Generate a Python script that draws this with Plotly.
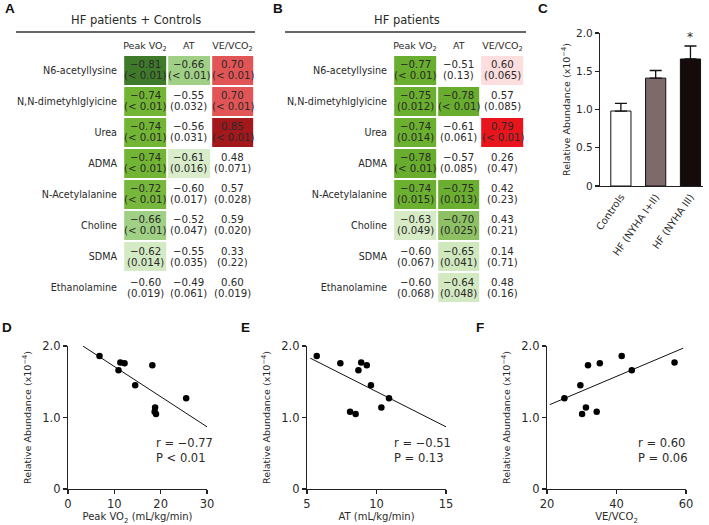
import plotly.graph_objects as go

# ---------------- data ----------------
metabolites = ["N6-acetyllysine", "N,N-dimetyhlglyicine", "Urea", "ADMA",
               "N-Acetylalanine", "Choline", "SDMA", "Ethanolamine"]
parameters = ["Peak VO<sub>2</sub>", "AT", "VE/VCO<sub>2</sub>"]

r_all = [[-0.81, -0.66, 0.70],
         [-0.74, -0.55, 0.70],
         [-0.74, -0.56, 0.85],
         [-0.74, -0.61, 0.48],
         [-0.72, -0.60, 0.57],
         [-0.66, -0.52, 0.59],
         [-0.62, -0.55, 0.33],
         [-0.60, -0.49, 0.60]]
p_all = [["&lt; 0.01", "&lt; 0.01", "&lt; 0.01"],
         ["&lt; 0.01", "0.032", "&lt; 0.01"],
         ["&lt; 0.01", "0.031", "&lt; 0.01"],
         ["&lt; 0.01", "0.016", "0.071"],
         ["&lt; 0.01", "0.017", "0.028"],
         ["&lt; 0.01", "0.047", "0.020"],
         ["0.014", "0.035", "0.22"],
         ["0.019", "0.061", "0.019"]]

r_hf = [[-0.77, -0.51, 0.60],
        [-0.75, -0.78, 0.57],
        [-0.74, -0.61, 0.79],
        [-0.78, -0.57, 0.26],
        [-0.74, -0.75, 0.42],
        [-0.63, -0.70, 0.43],
        [-0.60, -0.65, 0.14],
        [-0.60, -0.64, 0.48]]
p_hf = [["&lt; 0.01", "0.13", "0.065"],
        ["0.012", "&lt; 0.01", "0.085"],
        ["0.014", "0.061", "&lt; 0.01"],
        ["&lt; 0.01", "0.085", "0.47"],
        ["0.015", "0.013", "0.23"],
        ["0.049", "0.025", "0.21"],
        ["0.067", "0.041", "0.71"],
        ["0.068", "0.048", "0.16"]]

groups = ["Controls", "HF (NYHA I+II)", "HF (NYHA III)"]
group_mean = [0.98, 1.41, 1.66]
group_sem = [0.10, 0.10, 0.17]

abundance = [1.86, 1.77, 1.76, 1.73, 1.66, 1.45, 1.27, 1.14, 1.08, 1.05]
peak_vo2 = [6.8, 11.3, 12.2, 18.2, 10.9, 14.5, 25.5, 18.8, 18.7, 19.0]
at_vals = [5.7, 8.9, 7.4, 9.3, 8.7, 9.6, 10.9, 10.35, 8.1, 8.5]
ve_vco2 = [41.5, 56.7, 35.2, 31.8, 44.4, 29.6, 25.0, 31.2, 34.3, 30.1]

fit_d_x, fit_d_y = [3.2, 30.0], [2.0, 0.87]
fit_e_x, fit_e_y = [5.24, 15.0], [1.83, 0.87]
fit_f_x, fit_f_y = [20.8, 59.2], [1.18, 1.97]

stats_d = "r = \u22120.77<br>P &lt; 0.01"
stats_e = "r = \u22120.51<br>P = 0.13"
stats_f = "r = 0.60<br>P = 0.06"

# ---------------- styling ----------------
W, H = 709, 525
FONT = "DejaVu Sans"
TXT = "#2a2a2a"
AX = "#222222"


def X(p):
    return p / W


def Y(p):
    return 1 - p / H


def scale(stops):
    return [[(z + 1) / 2, c] for z, c in stops]


cs_all = scale([(-1.0, "#2c6a1a"), (-0.81, "#3e7a2a"), (-0.78, "#5ea42e"),
                (-0.74, "#72b534"), (-0.72, "#76b73c"), (-0.69, "#8cc466"),
                (-0.66, "#a0d085"), (-0.63, "#cfe7bd"), (-0.61, "#d9edcb"),
                (-0.605, "#ffffff"), (0.60, "#ffffff"), (0.65, "#f2a0a0"),
                (0.70, "#e25556"), (0.85, "#a3181b"), (1.0, "#800f12")])
cs_hf = scale([(-1.0, "#5a9e25"), (-0.74, "#6bb02f"), (-0.71, "#86bd5b"),
               (-0.70, "#8dc163"), (-0.66, "#cde6ba"), (-0.63, "#d6ebc6"),
               (-0.625, "#d8ecc9"), (-0.62, "#ffffff"), (0.59, "#ffffff"),
               (0.595, "#fde4e4"), (0.60, "#fcdede"), (0.79, "#e8161c"),
               (1.0, "#c01015")])


def fmt(v):
    return f"{v:.2f}".replace("-", "\u2212")


fig = go.Figure()
annotations = []

for r_tab, p_tab, cs, xa, ya in [(r_all, p_all, cs_all, "x", "y"),
                                  (r_hf, p_hf, cs_hf, "x2", "y2")]:
    fig.add_trace(go.Heatmap(z=r_tab, x=parameters, y=metabolites, colorscale=cs,
                             zmin=-1, zmax=1, showscale=False, xgap=2, ygap=2,
                             xaxis=xa, yaxis=ya, hoverinfo="skip"))
    for i, m in enumerate(metabolites):
        for j, c in enumerate(parameters):
            annotations.append(dict(x=c, y=m, xref=xa, yref=ya, text=fmt(r_tab[i][j]),
                                    showarrow=False, yshift=5.5, xanchor="center",
                                    yanchor="middle",
                                    font=dict(family=FONT, size=10.2, color=TXT)))
            annotations.append(dict(x=c, y=m, xref=xa, yref=ya, text="(" + p_tab[i][j] + ")",
                                    showarrow=False, yshift=-5.5, xanchor="center",
                                    yanchor="middle",
                                    font=dict(family=FONT, size=10.2, color=TXT)))

# bar chart C
fig.add_trace(go.Bar(x=groups, y=group_mean, width=0.58,
                     marker=dict(color=["#ffffff", "#7f6a6a", "#150b0b"],
                                 line=dict(color="#111111", width=1)),
                     error_y=dict(type="data", array=group_sem,
                                  arrayminus=[0] * len(group_sem), symmetric=False,
                                  color="#111111", thickness=1.3, width=6),
                     xaxis="x3", yaxis="y3", hoverinfo="skip"))
annotations.append(dict(x=groups[2], y=group_mean[2] + group_sem[2], xref="x3", yref="y3",
                        text="*", showarrow=False, xanchor="center", yanchor="bottom",
                        font=dict(family=FONT, size=12, color=TXT)))

# scatter D, E, F
for xs, fx, fy, xa, ya in [(peak_vo2, fit_d_x, fit_d_y, "x4", "y4"),
                           (at_vals, fit_e_x, fit_e_y, "x5", "y5"),
                           (ve_vco2, fit_f_x, fit_f_y, "x6", "y6")]:
    fig.add_trace(go.Scatter(x=fx, y=fy, mode="lines", line=dict(color="#111111", width=1),
                             xaxis=xa, yaxis=ya, hoverinfo="skip", cliponaxis=False))
    fig.add_trace(go.Scatter(x=xs, y=abundance, mode="markers",
                             marker=dict(color="#000000", size=6.5),
                             xaxis=xa, yaxis=ya, hoverinfo="skip", cliponaxis=False))

for txt, xp in [(stats_d, 154), (stats_e, 392), (stats_f, 636)]:
    annotations.append(dict(x=X(xp), y=Y(450.5), xref="paper", yref="paper", text=txt,
                            showarrow=False, xanchor="left", yanchor="middle", align="left",
                            font=dict(family=FONT, size=11.5, color=TXT)))

# titles and panel letters
annotations.append(dict(x=X(135.5), y=Y(20), xref="paper", yref="paper",
                        text="HF patients + Controls", showarrow=False,
                        xanchor="center", yanchor="middle",
                        font=dict(family=FONT, size=11.5, color=TXT)))
annotations.append(dict(x=X(407), y=Y(20), xref="paper", yref="paper",
                        text="HF patients", showarrow=False,
                        xanchor="center", yanchor="middle",
                        font=dict(family=FONT, size=11.5, color=TXT)))
for letter, lx, ly in [("A", 3, 8.5), ("B", 271, 8.5), ("C", 536, 8.5),
                       ("D", 0, 327), ("E", 239, 327), ("F", 474, 327)]:
    annotations.append(dict(x=X(lx), y=Y(ly), xref="paper", yref="paper",
                            text="<b>" + letter + "</b>", showarrow=False,
                            xanchor="left", yanchor="middle",
                            font=dict(family="Liberation Sans", size=13.5, color="#111111")))

shapes = [dict(type="line", xref="paper", yref="paper", x0=X(16), x1=X(255), y0=Y(32), y1=Y(32),
               line=dict(color="#333333", width=1.3)),
          dict(type="line", xref="paper", yref="paper", x0=X(285), x1=X(526), y0=Y(32), y1=Y(32),
               line=dict(color="#333333", width=1.3))]

tab_y = [Y(303), Y(55)]


def table_x(dom, anchor):
    return dict(domain=dom, side="top", showgrid=False, zeroline=False, showline=False,
                ticks="", anchor=anchor, automargin=False, ticklabelstandoff=3,
                tickfont=dict(family=FONT, size=9.5, color=TXT), fixedrange=True)


def table_y(anchor):
    return dict(domain=tab_y, autorange="reversed", showgrid=False, zeroline=False,
                showline=False, ticks="", anchor=anchor, automargin=False,
                ticklabelstandoff=4, tickfont=dict(family=FONT, size=9.6, color=TXT),
                fixedrange=True)


def plot_axis(dom, anchor, rng, tv, tt, title, standoff, size=11.5, tsize=10):
    return dict(domain=dom, anchor=anchor, range=rng, tickvals=tv, ticktext=tt,
                showgrid=False, zeroline=False, showline=True, linecolor=AX, linewidth=1.2,
                ticks="outside", ticklen=4, tickcolor=AX, tickwidth=1.2, automargin=False,
                tickfont=dict(family=FONT, size=size, color=TXT),
                title=dict(text=title, standoff=standoff,
                           font=dict(family=FONT, size=tsize, color=TXT)),
                fixedrange=True)


ylab = "Relative Abundance (x10<sup>\u22124</sup>)"
sc_y = [Y(489), Y(346)]

layout = dict(
    width=W, height=H, margin=dict(l=0, r=0, t=0, b=0), autosize=False,
    paper_bgcolor="white", plot_bgcolor="rgba(0,0,0,0)", showlegend=False,
    template="none", font=dict(family=FONT, color=TXT),
    xaxis=table_x([X(122), X(255.5)], "y"), yaxis=table_y("x"),
    xaxis2=table_x([X(392), X(525.5)], "y2"), yaxis2=table_y("x2"),
    xaxis3=dict(domain=[X(600), X(703)], anchor="y3", type="category", range=[-0.6, 2.36],
                showgrid=False, zeroline=False, showline=True, linecolor=AX, linewidth=1.2,
                ticks="", tickangle=-55, automargin=False,
                tickfont=dict(family=FONT, size=10, color=TXT), fixedrange=True),
    yaxis3=plot_axis([Y(186), Y(33)], "x3", [0, 2.0], [0, 0.5, 1.0, 1.5, 2.0],
                     ["0", "0.5", "1.0", "1.5", "2.0"], ylab, 3, size=10.5, tsize=9.5),
    xaxis4=plot_axis([X(68), X(207)], "y4", [0, 30], [0, 10, 20, 30], ["0", "10", "20", "30"],
                     "Peak VO<sub>2</sub> (mL/kg/min)", 3),
    yaxis4=plot_axis(sc_y, "x4", [0, 2], [0, 1, 2], ["0", "1.0", "2.0"], ylab, 8, tsize=9.5),
    xaxis5=plot_axis([X(307), X(446)], "y5", [5, 15], [5, 10, 15], ["5", "10", "15"],
                     "AT (mL/kg/min)", 3),
    yaxis5=plot_axis(sc_y, "x5", [0, 2], [0, 1, 2], ["0", "1.0", "2.0"], ylab, 8, tsize=9.5),
    xaxis6=plot_axis([X(547), X(686)], "y6", [20, 60], [20, 40, 60], ["20", "40", "60"],
                     "VE/VCO<sub>2</sub>", 3),
    yaxis6=plot_axis(sc_y, "x6", [0, 2], [0, 1, 2], ["0", "1.0", "2.0"], ylab, 8, tsize=9.5),
    annotations=annotations, shapes=shapes,
)
fig.update_layout(**layout)

fig.write_html("out.html", config={"displayModeBar": False, "staticPlot": True},
               post_script="document.body.style.margin='0';document.body.style.overflow='hidden';")
